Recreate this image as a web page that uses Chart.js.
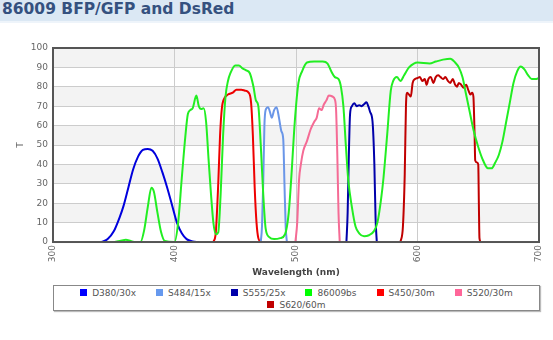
<!DOCTYPE html>
<html>
<head>
<meta charset="utf-8">
<script src="https://cdn.jsdelivr.net/npm/chart.js@4.4.1/dist/chart.umd.min.js"></script>
<style>
  body { margin: 0; width: 553px; height: 340px; background: #fff; position: relative; overflow: hidden; font-family: "DejaVu Sans", Verdana, sans-serif; }
  #head { position: absolute; left: 0; top: 0; width: 553px; height: 21px; background: #dbe8f4; border-bottom: 2px solid #eef4fa; }
  #head span { position: absolute; left: 2px; top: 0px; font: bold 15.5px "DejaVu Sans", Verdana, sans-serif; color: #35517f; }
  #wrap { position: absolute; left: 0; top: 22px; width: 553px; height: 260px; }
  #legend { position: absolute; left: 53px; top: 285px; width: 487px; height: 26px; border: 1px solid #888; box-shadow: 1px 1px 1px #bbb; text-align: center; font: 9px "DejaVu Sans", Verdana, sans-serif; color: #555; line-height: 12px; padding-top: 1px; box-sizing: border-box; }
  #legend .it { display: inline-block; margin: 0 10px; white-space: nowrap; }
  #legend i { display: inline-block; width: 7px; height: 7px; margin-right: 5px; vertical-align: 0px; }
</style>
</head>
<body>
<div id="head"><span>86009 BFP/GFP and DsRed</span></div>
<div id="wrap"><canvas id="c" width="553" height="260"></canvas></div>
<div id="legend"></div>
<script>
// wavelength (nm) / transmission (%)
const d380Nm = [340, 345, 350, 355, 358, 362, 366, 370, 374, 378, 382, 386, 390, 394, 398, 402, 406, 410, 415, 420];
const d380T = [0, 1.5, 5.5, 13, 18.5, 28, 37.5, 44, 47.5, 48, 47, 43, 36, 28, 19, 10, 4.5, 1.5, 0.3, 0];

const s484Nm = [471, 472, 473, 474, 475, 477, 479, 480, 482, 484, 486, 488, 489.5, 490.5, 491.5, 492.5];
const s484T = [0, 8, 30, 60, 68, 69.5, 66, 64, 68, 69.5, 64, 57, 53, 30, 8, 0];

const s555Nm = [541.5, 542.5, 543.5, 544.5, 546, 548, 550, 552, 554, 556, 558, 559.5, 561, 563, 564.5, 565.5, 566.5];
const s555T = [0, 15, 45, 66, 70, 71.5, 70, 70.5, 70, 71, 72, 70, 67, 62, 40, 12, 0];

const bsNm = [350, 355, 360, 364, 368, 372, 375, 378, 381, 383, 386, 389, 392, 400, 403, 406, 409, 411, 413, 415, 418, 420, 422, 424, 426, 428, 430, 432, 434, 436, 438, 440, 442, 444, 446, 450, 453, 456, 459, 462, 465, 467, 469, 471, 473, 475, 478, 482, 487, 491, 494, 496, 499, 502, 505, 509, 515, 522, 526, 529, 532, 535, 537, 539, 541, 543, 546, 549, 552, 556, 560, 564, 567, 570, 572, 575, 578, 580, 583, 586, 589, 593, 597, 600, 610, 615, 621, 627, 631, 634, 637, 640, 643, 646, 650, 654, 658, 661, 664, 667, 670, 673, 676, 679, 682, 685, 688, 691, 694, 697, 700];
const bsT = [0, 0.5, 1.2, 0.5, 0, 0, 6, 18, 28, 26, 15, 5, 0.5, 0, 10, 33, 55, 66, 68, 69, 75.5, 70, 68.5, 69, 62, 43, 25, 10, 4, 5, 25, 55, 75, 83, 87, 91, 91, 89.5, 88.5, 87, 80, 73, 70, 50, 25, 7, 2.5, 1.5, 2, 4, 15, 32, 62, 82, 88, 92.5, 93, 93, 92, 88, 85, 84, 80, 70, 50, 32, 18, 8, 4.5, 3, 3.5, 5.5, 10, 22, 33, 55, 78, 83, 85, 83, 86, 90, 92, 92.5, 92, 93, 94, 94.5, 92.5, 90, 85, 76, 67, 58, 49, 42, 38, 38, 41, 45, 52, 62, 72, 82, 88, 90.5, 89, 86, 84, 84, 84.5];

const s450Nm = [432, 434, 436, 437.5, 439, 441, 444, 448, 451, 455, 458, 461, 463, 464.5, 466, 467.5, 469, 471];
const s450T = [0, 5, 30, 55, 69, 74, 76, 77, 78.5, 78.5, 78, 77, 72, 55, 28, 10, 2, 0];

const s520Nm = [499.5, 501, 502.5, 504, 506, 509, 512, 515, 517, 519, 521, 523, 525, 527, 530, 532, 533, 534, 535, 536];
const s520T = [0, 10, 32, 40, 47, 52, 58, 62, 64, 69, 68, 71, 73, 75.5, 75, 73.5, 68, 45, 15, 0];

const s620Nm = [586, 588, 589.5, 590.5, 591.5, 593, 594.5, 596, 598, 600, 602, 604, 606, 607.5, 609, 611, 613, 615, 617, 619, 621, 623, 625, 627, 629, 631, 632.5, 634, 636, 638, 640, 642, 643.5, 645, 646, 647, 647.5, 649, 650, 650.5, 651, 652];
const s620T = [0, 8, 35, 70, 77, 76, 75, 82, 84, 84.5, 85, 83, 84, 81, 84, 85, 82, 85, 86, 85, 84, 85, 83, 82, 84, 81, 80, 82, 81, 79.5, 81, 78, 76, 77, 75, 55, 42, 41, 40, 20, 2, 0];

const seriesNames = ["D380/30x", "S484/15x", "S555/25x", "86009bs", "S450/30m", "S520/30m", "S620/60m"];
const seriesColors = ["#0000dd", "#6a96e8", "#0000aa", "#22ee22", "#ee0000", "#f56b95", "#c00000"];
const legendColors = ["#0000ff", "#6699ee", "#0000aa", "#00ff00", "#ff0000", "#ff6699", "#c00000"];
const xTicks = [300, 400, 500, 600, 700];

const pairs = [[d380Nm, d380T], [s484Nm, s484T], [s555Nm, s555T], [bsNm, bsT], [s450Nm, s450T], [s520Nm, s520T], [s620Nm, s620T]];

// draw order as in the picture: green under the filters
const order = [3, 0, 1, 2, 4, 5, 6];
const datasets = order.map(i => ({
  label: seriesNames[i],
  data: pairs[i][0].map((x, k) => ({ x: x, y: pairs[i][1][k] })),
  borderColor: seriesColors[i],
  backgroundColor: seriesColors[i],
  borderWidth: 2,
  pointRadius: 0,
  fill: false,
  cubicInterpolationMode: "monotone",
}));

const bandsPlugin = {
  id: "bands",
  beforeDraw(chart) {
    const { ctx, chartArea: a, scales: { y } } = chart;
    ctx.save();
    ctx.fillStyle = "#f3f3f3";
    for (let v = 10; v < 100; v += 20) {
      const top = y.getPixelForValue(v + 10), bot = y.getPixelForValue(v);
      ctx.fillRect(a.left, top, a.right - a.left, bot - top);
    }
    ctx.restore();
  },
  afterDraw(chart) {
    const { ctx, chartArea: a } = chart;
    ctx.save();
    ctx.strokeStyle = "#555";
    ctx.lineWidth = 2;
    ctx.strokeRect(a.left, a.top, a.right - a.left, a.bottom - a.top);
    ctx.restore();
  },
};

new Chart(document.getElementById("c"), {
  type: "line",
  data: { datasets: datasets },
  options: {
    responsive: false,
    animation: false,
    layout: { padding: { top: 26, right: 14, left: 15, bottom: 4 } },
    plugins: { legend: { display: false }, tooltip: { enabled: false } },
    scales: {
      x: {
        type: "linear",
        min: 300,
        max: 700,
        afterBuildTicks: (s) => { s.ticks = xTicks.map(v => ({ value: v })); },
        ticks: { minRotation: 90, maxRotation: 90, padding: 3, color: "#666", font: { family: "DejaVu Sans", size: 9 } },
        grid: { color: "#cccccc", drawTicks: false },
        border: { display: false },
        title: { display: true, text: "Wavelength (nm)", color: "#444", padding: { top: 2, bottom: 0 }, font: { family: "DejaVu Sans", size: 9, weight: "bold" } },
      },
      y: {
        min: 0,
        max: 100,
        ticks: { stepSize: 10, padding: 5, color: "#666", font: { family: "DejaVu Sans", size: 9 } },
        grid: { color: "#cccccc", drawTicks: false },
        border: { display: false },
        title: { display: true, text: "T", color: "#666", padding: 0, font: { family: "DejaVu Sans", size: 9 } },
        afterFit: (s) => { s.width = 38; },
      },
    },
  },
  plugins: [bandsPlugin],
});

const lg = document.getElementById("legend");
seriesNames.forEach((n, i) => {
  const it = document.createElement("span");
  it.className = "it";
  it.innerHTML = '<i style="background:' + legendColors[i] + '"></i>' + n;
  lg.appendChild(it);
});
</script>
</body>
</html>
